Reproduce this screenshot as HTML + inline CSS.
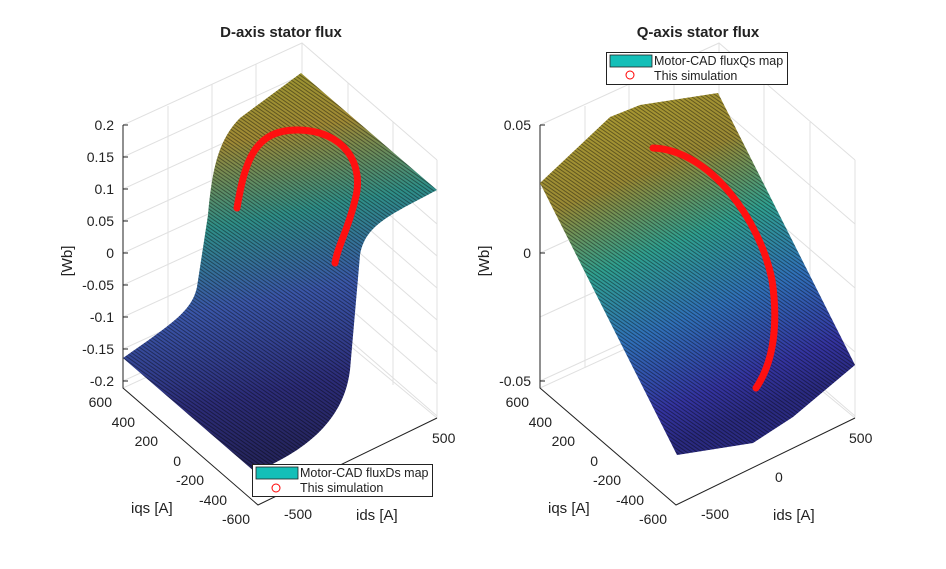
<!DOCTYPE html>
<html><head><meta charset="utf-8"><style>
body{margin:0;background:#fff}
svg{display:block;font-family:"Liberation Sans",sans-serif}
</style></head><body>
<svg width="946" height="569" viewBox="0 0 946 569" xmlns="http://www.w3.org/2000/svg">
<defs>
<linearGradient id="gl" x1="0" y1="0" x2="0.15" y2="1">
<stop offset="0" stop-color="#9a9a30"/><stop offset="0.22" stop-color="#a08a35"/><stop offset="0.42" stop-color="#2f8f88"/><stop offset="0.62" stop-color="#3a56a8"/><stop offset="0.85" stop-color="#2c2c78"/><stop offset="1" stop-color="#25255e"/>
</linearGradient>
<linearGradient id="gr" x1="0" y1="0" x2="0.35" y2="1">
<stop offset="0" stop-color="#b0a030"/><stop offset="0.3" stop-color="#9a8a35"/><stop offset="0.5" stop-color="#30a090"/><stop offset="0.7" stop-color="#3070b8"/><stop offset="0.9" stop-color="#3434a0"/><stop offset="1" stop-color="#2a2a80"/>
</linearGradient>
<pattern id="mesh" width="3" height="3" patternUnits="userSpaceOnUse" patternTransform="rotate(35)">
<rect width="3" height="1" fill="#000" opacity="0.4"/>
</pattern>
</defs>
<g stroke="#e0e0e0" stroke-width="1" fill="none">
<path d="M123,125 L302,43 L437,160 M123,157 L302,75 L437,192 M123,189 L302,107 L437,224 M123,221 L302,139 L437,256 M123,253 L302,171 L437,288 M123,285 L302,203 L437,320 M123,317 L302,235 L437,352 M123,349 L302,267 L437,384 M123,381 L302,299 L437,416"/>
<path d="M302,43 V306 M212,84 V347 M256,64 V327 M348,83 V346 M393,122 V385 M437,160 V418 M123,388 L302,306 L437,418 M168,106 V368"/>
<path d="M540,125 L719,43 L855,160 M540,253 L719,171 L855,288 M540,381 L719,299 L855,416 M540,189 L719,107 L855,224 M540,317 L719,235 L855,352"/>
<path d="M719,43 V306 M629,84 V347 M674,64 V327 M764,83 V346 M810,122 V385 M855,160 V418 M540,388 L719,306 L855,418 M585,106 V368"/>
</g>
<g stroke="#222" stroke-width="1" fill="none">
<path d="M123,125 V388 L258,505 L437,418"/>
<path d="M540,125 V388 L676,505 L855,418"/>
<path d="M123,125 h5 M123,157 h5 M123,189 h5 M123,221 h5 M123,253 h5 M123,285 h5 M123,317 h5 M123,349 h5 M123,381 h5"/>
<path d="M540,125 h5 M540,253 h5 M540,381 h5"/>
</g>
<g>
<path d="M123,358 C175,322 192,310 197,287 L208,215 C212,170 218,140 240,118 L301,73 L437,190 C390,215 365,225 360,255 L350,370 C345,410 320,445 255,472 Z" fill="url(#gl)"/>
<path d="M123,358 C175,322 192,310 197,287 L208,215 C212,170 218,140 240,118 L301,73 L437,190 C390,215 365,225 360,255 L350,370 C345,410 320,445 255,472 Z" fill="url(#mesh)"/>
<path d="M237,208 C245,160 255,130 297,130 C345,130 365,165 355,200 C348,230 338,245 335,263" stroke="#ff1010" stroke-width="7" fill="none" stroke-linecap="round"/>
</g>
<g>
<path d="M540,183 L610,117 L640,105 L718,93 L855,365 L793,417 L753,443 L677,455 Z" fill="url(#gr)"/>
<path d="M540,183 L610,117 L640,105 L718,93 L855,365 L793,417 L753,443 L677,455 Z" fill="url(#mesh)"/>
<path d="M653,148 C710,150 760,220 772,280 C778,320 775,360 756,388" stroke="#ff1010" stroke-width="7" fill="none" stroke-linecap="round"/>
</g>
<g font-weight="bold" font-size="15" fill="#222" text-anchor="middle">
<text x="281" y="37">D-axis stator flux</text>
<text x="698" y="37">Q-axis stator flux</text>
</g>
<g font-size="14" fill="#222">
<g text-anchor="end">
<text x="114" y="130">0.2</text><text x="114" y="162">0.15</text><text x="114" y="194">0.1</text><text x="114" y="226">0.05</text><text x="114" y="258">0</text><text x="114" y="290">-0.05</text><text x="114" y="322">-0.1</text><text x="114" y="354">-0.15</text><text x="114" y="386">-0.2</text>
<text x="531" y="130">0.05</text><text x="531" y="258">0</text><text x="531" y="386">-0.05</text>
<text x="112" y="407">600</text><text x="135" y="427">400</text><text x="158" y="446">200</text><text x="181" y="466">0</text><text x="204" y="485">-200</text><text x="227" y="505">-400</text><text x="250" y="524">-600</text>
<text x="529" y="407">600</text><text x="552" y="427">400</text><text x="575" y="446">200</text><text x="598" y="466">0</text><text x="621" y="485">-200</text><text x="644" y="505">-400</text><text x="667" y="524">-600</text>
</g>
<text x="284" y="519">-500</text><text x="432" y="443">500</text>
<text x="701" y="519">-500</text><text x="775" y="482">0</text><text x="849" y="443">500</text>
<text x="131" y="513" font-size="15">iqs [A]</text><text x="356" y="520" font-size="15">ids [A]</text>
<text x="548" y="513" font-size="15">iqs [A]</text><text x="773" y="520" font-size="15">ids [A]</text>
<text transform="translate(72,261) rotate(-90)" text-anchor="middle" font-size="15">[Wb]</text>
<text transform="translate(489,261) rotate(-90)" text-anchor="middle" font-size="15">[Wb]</text>
</g>
<g font-size="12.5" fill="#222">
<rect x="252.5" y="464.5" width="180" height="32" fill="#fff" stroke="#222"/>
<rect x="256" y="467" width="42" height="12" fill="#14bfb8" stroke="#222" stroke-width="0.8"/>
<circle cx="276" cy="488" r="4" fill="none" stroke="#f00"/>
<text x="300" y="477">Motor-CAD fluxDs map</text><text x="300" y="492">This simulation</text>
<rect x="606.5" y="52.5" width="181" height="32" fill="#fff" stroke="#222"/>
<rect x="610" y="55" width="42" height="12" fill="#14bfb8" stroke="#222" stroke-width="0.8"/>
<circle cx="630" cy="75" r="4" fill="none" stroke="#f00"/>
<text x="654" y="65">Motor-CAD fluxQs map</text><text x="654" y="80">This simulation</text>
</g>
</svg>
</body></html>
